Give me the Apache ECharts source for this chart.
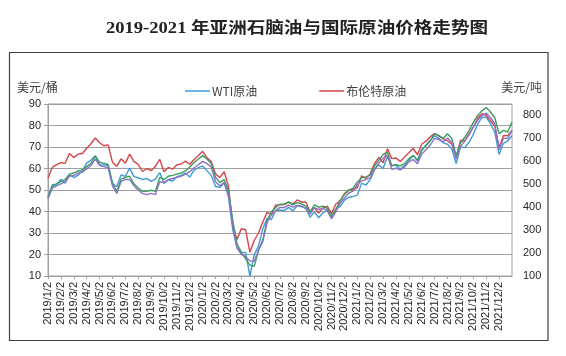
<!DOCTYPE html>
<html><head><meta charset="utf-8">
<script src="https://cdn.jsdelivr.net/npm/echarts@6/dist/echarts.min.js"></script>
<style>html,body{margin:0;padding:0;background:#fff}#c{width:566px;height:356px}</style>
</head><body><div id="c"></div>
<script>
var monthLabels = [
 '2019/1/2','2019/2/2','2019/3/2','2019/4/2','2019/5/2','2019/6/2','2019/7/2','2019/8/2','2019/9/2','2019/10/2','2019/11/2','2019/12/2',
 '2020/1/2','2020/2/2','2020/3/2','2020/4/2','2020/5/2','2020/6/2','2020/7/2','2020/8/2','2020/9/2','2020/10/2','2020/11/2','2020/12/2',
 '2021/1/2','2021/2/2','2021/3/2','2021/4/2','2021/5/2','2021/6/2','2021/7/2','2021/8/2','2021/9/2','2021/10/2','2021/11/2','2021/12/2'
];
var lastDate = '2021/12/31';
var seriesNames = ['WTI原油','布伦特原油','亚洲石脑油A','亚洲石脑油B'];

// WTI crude, USD/bbl (2nd, 12th, 22nd of each month)
var wti = [
 46.5,51.6,52.6, 55.0,53.2,57.2, 55.8,56.9,59.0, 62.5,63.9,65.8, 61.8,61.7,61.4, 53.3,51.5,57.0,
 56.3,60.2,56.2, 55.7,54.9,55.4, 54.0,55.1,58.1, 53.0,54.7,54.2, 56.2,56.8,57.8, 56.0,59.2,60.4,
 61.2,59.0,56.7, 51.6,51.2,53.4, 46.8,31.5,23.0, 21.0,21.0,10.0, 19.8,24.0,32.0, 36.8,36.3,40.5,
 40.6,40.5,41.9, 40.3,42.7,42.3, 41.5,37.3,39.8, 37.1,39.4,40.6, 36.8,41.1,42.4, 45.3,46.6,47.0,
 47.6,53.2,52.3, 54.8,59.5,61.7, 60.0,65.6,61.6, 61.4,59.7,61.4, 63.6,66.1,63.6, 68.8,70.9,73.1,
 75.2,74.1,71.9, 71.3,69.1,62.3, 70.0,69.7,72.2, 75.9,80.6,83.8, 83.9,80.8,76.8, 66.5,71.7,72.8, 75.2
];
// Brent crude, USD/bbl
var brent = [
 55.5,60.5,61.8, 62.7,62.4,67.0, 65.1,66.7,67.0, 69.4,71.5,74.2, 72.0,70.6,71.0, 63.0,61.0,64.5,
 62.4,66.7,63.3, 61.9,58.6,60.0, 59.0,61.0,64.3, 58.5,60.5,59.7, 61.7,62.1,63.4, 62.0,64.2,66.1,
 68.0,65.0,63.2, 57.5,55.8,58.5, 51.9,33.2,27.0, 32.0,31.5,21.0, 26.5,30.0,35.1, 39.6,38.7,43.1,
 43.1,43.2,44.3, 43.5,45.4,44.4, 44.4,39.8,41.7, 39.3,41.7,42.5, 39.0,43.5,45.0, 48.3,50.0,50.1,
 51.1,56.6,55.4, 57.5,62.4,65.2, 62.7,69.2,64.6, 64.9,63.3,65.4, 67.3,69.3,66.4, 71.4,72.7,74.8,
 76.2,75.2,73.8, 72.9,71.3,65.2, 73.0,72.9,76.2, 79.3,83.4,85.5, 84.7,82.2,79.7, 69.7,75.2,75.3, 77.8
];
// Asian naphtha (green), USD/t
var naphthaA = [
 446,497,502, 511,521,544, 549,558,563, 577,591,624, 596,591,586, 502,469,521,
 530,535,502, 483,469,469, 474,469,530, 521,535,539, 544,549,558, 575,595,610,
 625,610,590, 530,507,521, 474,343,240, 203,175,147, 142,212,259, 343,380,399,
 413,413,423, 410,420,415, 405,380,410, 400,405,395, 360,390,430, 455,475,482,
 510,528,532, 540,580,605, 630,640,580, 585,580,590, 612,625,605, 648,668,690,
 720,712,700, 720,700,625, 680,705,735, 770,800,820, 835,815,790, 720,735,728, 771
];
// Asian naphtha (purple), USD/t
var naphthaB = [
 437,483,493, 502,511,535, 539,549,553, 567,581,610, 582,577,572, 493,460,511,
 521,521,493, 474,460,455, 460,455,511, 507,521,525, 530,535,544, 555,572,585,
 600,590,575, 511,493,507, 460,324,222, 194,184,165, 165,212,250, 334,366,385,
 399,399,409, 400,408,405, 395,370,398, 390,395,385, 350,380,418, 440,462,470,
 498,515,520, 528,565,592, 615,625,565, 570,562,575, 598,608,590, 632,650,672,
 700,695,685, 702,682,610, 665,688,715, 750,780,798, 810,790,765, 650,700,700, 735
];

var dates = [];
monthLabels.forEach(function (m) {
  var base = m.slice(0, m.lastIndexOf('/') + 1);
  dates.push(m, base + '12', base + '22');
});
dates.push(lastDate);
function isMonthTick(idx, val) { return monthLabels.indexOf(val) >= 0; }

var chart = echarts.init(document.getElementById('c'), null, {renderer: 'canvas'});
var txt = '#262626';
var grey = '#a0a0a0';
chart.setOption({
  animation: false,
  backgroundColor: '#fff',
  legend: {
    data: [seriesNames[0], seriesNames[1]],
    left: 180, top: 80, icon: 'rect', itemWidth: 25, itemHeight: 1.5, itemGap: 62,
    textStyle: {fontSize: 12, color: '#404040', fontFamily: '"Noto Sans CJK SC", sans-serif', padding: [0,0,0,-3]}
  },
  grid: {left: 48, right: 54, top: 104, bottom: 80, show: true, borderColor: grey, borderWidth: 1},
  xAxis: {
    type: 'category', data: dates, boundaryGap: false,
    axisLine: {lineStyle: {color: grey}},
    axisTick: {interval: isMonthTick, length: 3, lineStyle: {color: grey}},
    axisLabel: {interval: isMonthTick, rotate: 90, margin: 6, fontSize: 11, color: txt, fontFamily: '"Liberation Sans", Arial'}
  },
  yAxis: [{
    type: 'value', min: 10, max: 90, interval: 10,
    axisLine: {show: true, lineStyle: {color: grey}},
    axisTick: {show: true, length: 4, lineStyle: {color: grey}},
    axisLabel: {fontSize: 11, color: txt, margin: 7, fontFamily: '"Liberation Sans", Arial'},
    splitLine: {lineStyle: {color: grey, width: 1}}
  }, {
    type: 'value', min: 100, max: 850, interval: 100, position: 'right',
    axisLine: {show: false}, axisTick: {show: false}, splitLine: {show: false},
    axisLabel: {fontSize: 11, color: txt, margin: 11, showMaxLabel: false,
      formatter: function (v) { return v > 800 ? '' : v; }, fontFamily: '"Liberation Sans", Arial'}
  }],
  series: [
    {name: seriesNames[0], type: 'line', data: wti, yAxisIndex: 0, symbol: 'none', color: '#3f9bd9', lineStyle: {width: 1.4}},
    {name: seriesNames[1], type: 'line', data: brent, yAxisIndex: 0, symbol: 'none', color: '#d5454a', lineStyle: {width: 1.4}},
    {name: seriesNames[2], type: 'line', data: naphthaA, yAxisIndex: 1, symbol: 'none', color: '#3a9e5c', lineStyle: {width: 1.4}},
    {name: seriesNames[3], type: 'line', data: naphthaB, yAxisIndex: 1, symbol: 'none', color: '#8d72c4', lineStyle: {width: 1.4}}
  ],
  graphic: [
    {type: 'rect', shape: {x: 9.5, y: 52.5, width: 538.5, height: 288}, style: {fill: 'none', stroke: '#404040', lineWidth: 1.2}, silent: true},
    {type: 'text', x: 106, y: 28.5, scaleX: 1.16, style: {text: '2019-2021 年亚洲石脑油与国际原油价格走势图', fill: '#222',
      font: 'bold 16px "Liberation Serif", "Noto Sans CJK SC"', textAlign: 'left', textVerticalAlign: 'middle'}},
    {type: 'text', x: 17, y: 87, style: {text: '美元/桶', fill: '#404040', font: '12px "Noto Sans CJK SC"', textAlign: 'left', textVerticalAlign: 'middle'}},
    {type: 'text', x: 542, y: 87, style: {text: '美元/吨', fill: '#404040', font: '12px "Noto Sans CJK SC"', textAlign: 'right', textVerticalAlign: 'middle'}}
  ]
});
</script></body></html>
